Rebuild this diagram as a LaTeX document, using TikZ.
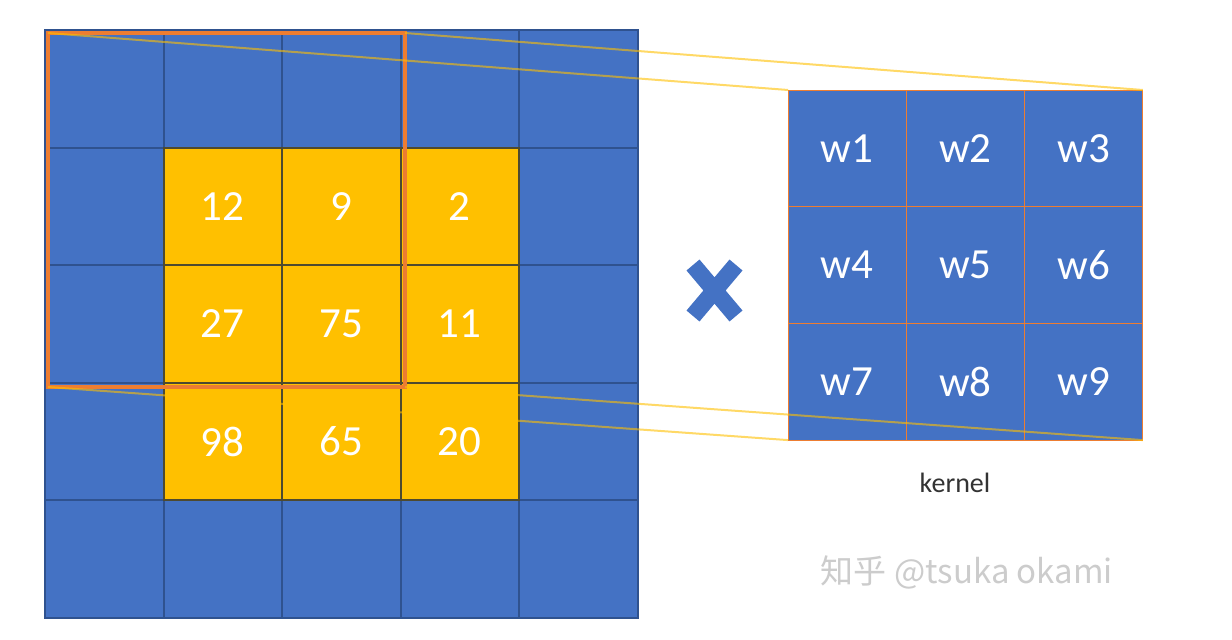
\documentclass[tikz,border=0pt]{standalone}
\usepackage{fontspec}
\setmainfont{Carlito}
\newfontfamily\cjkfont{Noto Sans CJK SC}
\usetikzlibrary{positioning}
\definecolor{cellblue}{HTML}{4472C4}
\definecolor{gridblue}{HTML}{2F528F}
\definecolor{cellyellow}{HTML}{FFC000}
\definecolor{gridbrown}{HTML}{4E4A30}
\definecolor{winorange}{HTML}{ED7D31}
\tikzset{
  bcell/.style={draw=gridblue,fill=cellblue,line width=2pt,inner sep=0pt,outer sep=0pt,
    minimum width=118.5pt,minimum height=117.6pt},
  ycell/.style={bcell,draw=gridbrown,fill=cellyellow,text=white,font=\fontsize{43}{50}\selectfont},
  kcell/.style={draw=winorange,fill=cellblue,line width=1pt,inner sep=0pt,outer sep=0pt,
    minimum width=118.3pt,minimum height=116.7pt,text=white,font=\fontsize{43}{50}\selectfont},
  proj/.style={draw=cellyellow,line width=2pt,opacity=0.6},
  crossmark/.style={draw=cellblue,line width=17pt}
}

\begin{document}
\begin{tikzpicture}[x=1pt,y=-1pt]
\useasboundingbox (0,0) rectangle (1232,640);
\fill[white] (0,0) rectangle (1232,640);
% input map
\foreach \r in {0,...,4}
  \foreach \c in {0,...,4}
    \node[bcell] (g-\r-\c) at ({45+118.5*(\c+0.5)},{30+117.6*(\r+0.5)}) {};
\foreach \r/\a/\b/\c in {1/12/9/2,2/27/75/11,3/98/65/20}{
  \node[ycell] (y-\r-1) at (g-\r-1) {\a};
  \node[ycell] (y-\r-2) at (g-\r-2) {\b};
  \node[ycell] (y-\r-3) at (g-\r-3) {\c};
}
% kernel
\node[kcell] (k1) at (847.15,148.35) {w1};
\node[kcell,right=0pt of k1] (k2) {w2};
\node[kcell,right=0pt of k2] (k3) {w3};
\node[kcell,below=0pt of k1] (k4) {w4};
\node[kcell,right=0pt of k4] (k5) {w5};
\node[kcell,right=0pt of k5] (k6) {w6};
\node[kcell,below=0pt of k4] (k7) {w7};
\node[kcell,right=0pt of k7] (k8) {w8};
\node[kcell,right=0pt of k8] (k9) {w9};
% window
\node[draw=winorange,line width=4pt,outer sep=0pt,minimum width=357pt,minimum height=354pt] (win) at (226.5,210) {};
\draw[proj] (win.north west)--(k1.north west) (win.north east)--(k3.north east)
  (win.south west)--(k7.south west) (win.south east)--(k9.south east);
% times sign
\draw[crossmark] (693,265)--(736,316) (736,265)--(693,316);
\node[text=black!80,font=\fontsize{28}{32}\selectfont] (klabel) at (955,483) {kernel};
\node[text=black!20,font=\cjkfont\fontsize{33}{38}\selectfont] (mark) at (967,572) {知乎 @tsuka okami};
\end{tikzpicture}
\end{document}
